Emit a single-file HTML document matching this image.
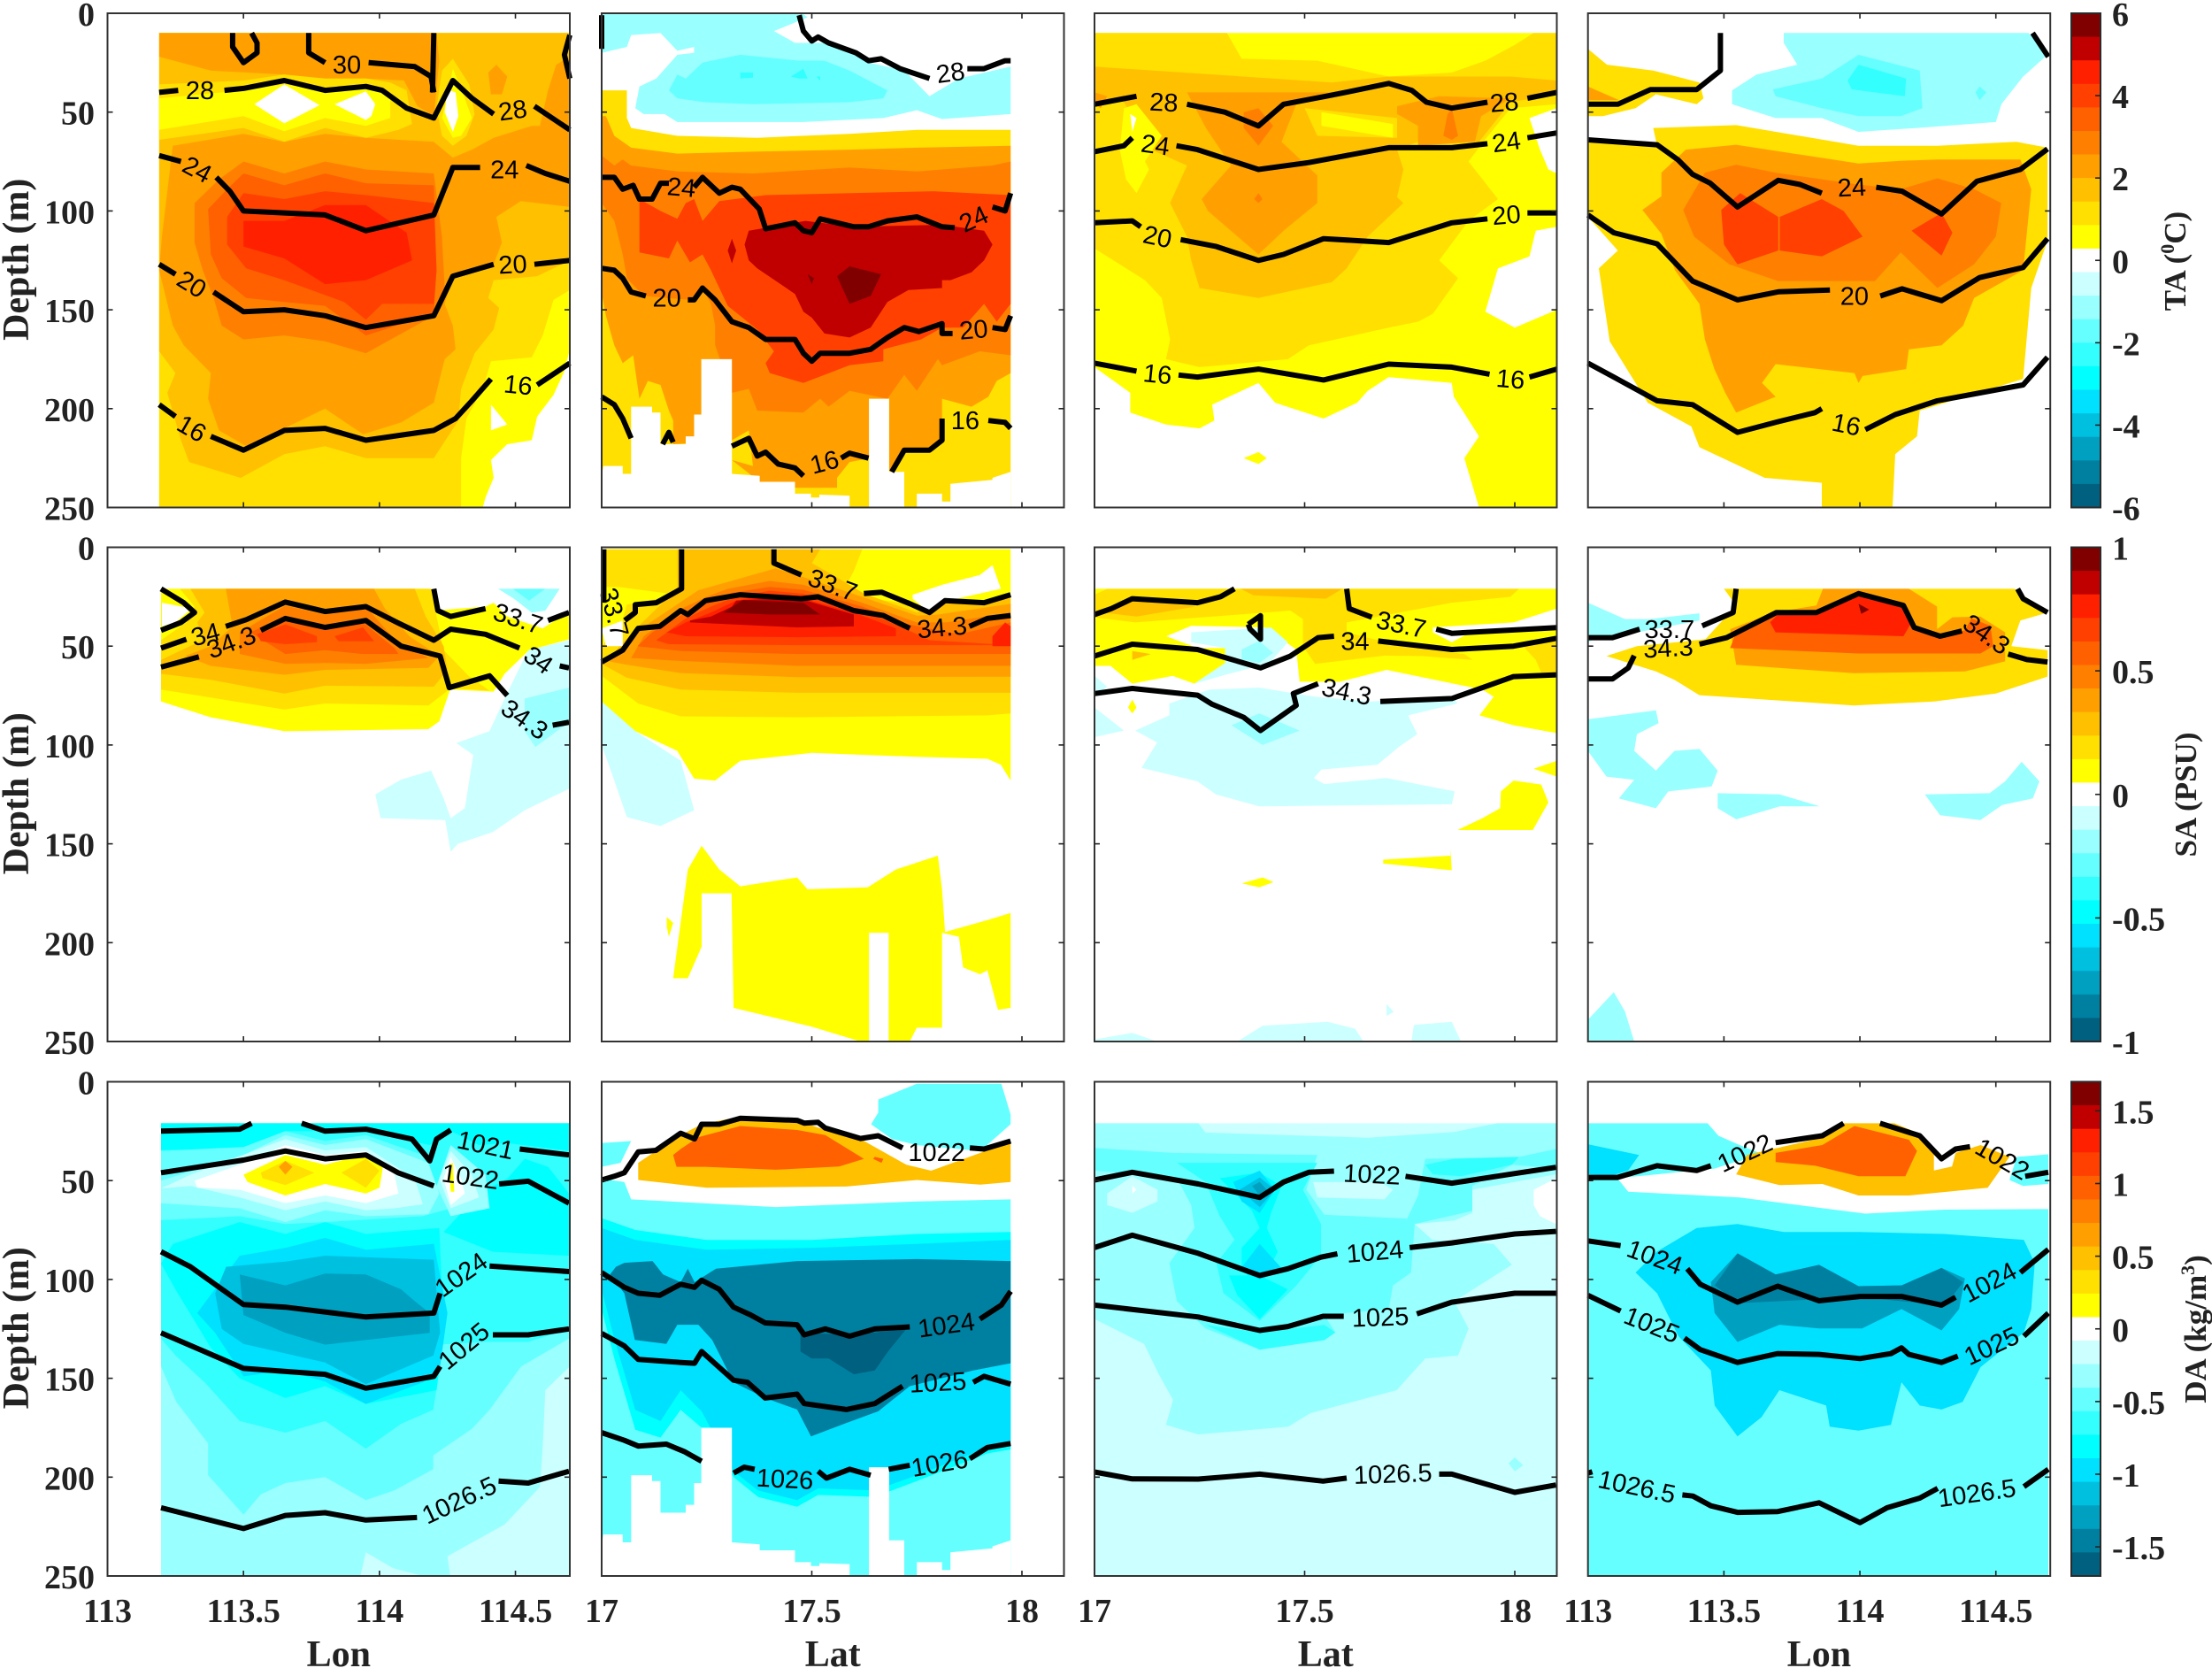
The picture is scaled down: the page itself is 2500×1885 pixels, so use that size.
<!DOCTYPE html>
<html lang="en">
<head>
<meta charset="utf-8">
<title>Temperature, salinity and density anomaly sections</title>
<style>
html,body{margin:0;padding:0;background:#fff;}
svg{display:block;}
.tick{font-family:"Liberation Serif",serif;font-weight:bold;font-size:38px;fill:#222;}
.axis-title{font-family:"Liberation Serif",serif;font-weight:bold;font-size:42px;fill:#222;}
.cbar-title{font-family:"Liberation Serif",serif;font-weight:bold;font-size:35px;fill:#222;}
.clabel{font-family:"Liberation Sans",sans-serif;font-size:29px;fill:#000;}
</style>
</head>
<body>
<svg id="chart" xmlns="http://www.w3.org/2000/svg" width="2500" height="1885" viewBox="0 0 2500 1885">
<rect x="0" y="0" width="2500" height="1885" fill="#fff"/>
</svg>
<script>
// ---- colour scale categories: index = level + 10 ----
const bandLevels = [-10,-9,-8,-7,-6,-5,-4,-3,-2,-1,0,1,2,3,4,5,6,7,8,9,10];
const cmapColors = ['#006080','#0080a0','#00a0c0','#00c0e0','#00e0ff','#00ffff','#33ffff','#66ffff','#99ffff','#ccffff','#ffffff','#ffff00','#ffe000','#ffc000','#ffa000','#ff8000','#ff6000','#ff4000','#ff2000','#c00000','#800000'];
const cbarLimits = [6,1,1.7];
const cbarTicksTA = [-6,-4,-2,0,2,4,6];
const cbarTicksSA = [-1,-0.5,0,0.5,1];
const cbarTicksDA = [-1.5,-1,-0.5,0,0.5,1,1.5];
const depthTicks = [0,50,100,150,200,250];
const lonTicks = [113,113.5,114,114.5];
const latTicks = [17,17.5,18];
const colDomains = [[113,114.7],[17,18.1],[17,18.1],[113,114.7]];
const colTitles = ['Lon','Lat','Lat','Lon'];

// ---- station-gap mask for the latitude section (lat, depth pairs) ----
const latGapMask = [17,234,17.004,229,17.05,229,17.05,233,17.07,233,17.07,199,17.12,199,17.12,202,17.14,202,17.14,218,17.2,218,17.2,214,17.22,214,17.22,203,17.237,203,17.237,175,17.31,175,17.31,233,17.376,234,17.376,237,17.46,237,17.46,243,17.498,243,17.498,245,17.518,245,17.518,243.5,17.59,244,17.59,250,17.636,250,17.636,195,17.684,195,17.684,232,17.72,232,17.72,250,17.75,250,17.75,243,17.81,243,17.81,247,17.83,247,17.83,238,17.93,236,17.93,235,17.973,232,17.973,250,17,250];

// ---- Temperature anomaly: [level, x/depth pairs] ----
const taLonA = [
[1,[113.19,10,114.7,10,114.7,170,114.68,181,114.64,193,114.58,204,114.56,216,114.47,218,114.41,226,114.42,235,114.39,245,114.38,250,113.19,250]],
[2,[113.19,10,114.7,10,114.7,140,114.64,145,114.6,163,114.56,174,114.41,176,114.38,190,114.32,205,114.3,225,114.3,250,113.19,250]],
[3,[113.19,10,114.7,10,114.7,125,114.58,133,114.42,135,114.4,144,114.44,149,114.42,160,114.35,172,114.3,190,114.29,206,114.2,225,113.95,225,113.8,219,113.65,223,113.49,235,113.3,227,113.27,216,113.22,192,113.25,182,113.19,171]],
[4,[113.24,67,113.5,61,113.65,65,113.8,61,113.95,63,114.2,65,114.27,73,114.34,69,114.42,63,114.56,57,114.59,57,114.62,39,114.65,26,114.7,22,114.7,98,114.52,95,114.43,103,114.45,116,114.42,127,114.27,134,114.24,147,114.27,158,114.28,170,114.24,175,114.2,197,114.08,207,113.94,213,113.8,200,113.65,210,113.51,219,113.41,211,113.37,195,113.38,182,113.28,168,113.24,158,113.19,130,113.2,113]],
[4,[113.19,10,114.21,10,114.22,24,114.2,52,114.14,47,114.09,34,113.95,33,113.8,33,113.65,31,113.38,29,113.19,22]],
[4,[114.4,30,114.43,26,114.47,32,114.45,41,114.41,41]],
[5,[113.5,75,113.65,81,113.8,75,113.95,79,114.2,81,114.23,113,114.24,139,114.2,153,113.95,172,113.8,166,113.65,163,113.5,165,113.42,158,113.39,144,113.35,130,113.32,116,113.32,96,113.41,84]],
[6,[113.5,81,113.65,87,113.8,81,113.95,86,114.2,87,114.21,130,114.2,152,113.95,163,113.8,148,113.65,146,113.51,144,113.42,134,113.38,122,113.37,99,113.44,89]],
[7,[113.5,91,113.65,94,113.8,90,113.95,92,114.2,96,114.21,130,114.2,147,114.01,147,113.95,155,113.87,146,113.65,135,113.51,129,113.44,117,113.44,103]],
[8,[113.5,105,113.65,105,113.8,97,113.95,97,114.1,111,114.12,125,113.95,135,113.8,137,113.65,124,113.5,118]],
[2,[113.19,36,113.5,34,113.65,31,113.8,33,113.95,33,114.04,35,114.1,39,114.12,56,114.07,59,113.95,63,113.8,58,113.65,65,113.5,58,113.19,64]],
[1,[113.19,43,113.5,39,113.65,36,113.8,39,113.95,36,114.04,43,114.04,53,113.95,57,113.8,53,113.65,59.7,113.5,52,113.19,59]],
[0,[113.54,46,113.65,36,113.78,46.5,113.65,55.7]],
[0,[113.835,46,113.95,39.5,113.985,46,113.97,52,113.95,54]],
[3,[114.27,18,114.34,29,114.38,45,114.35,65,114.27,73,114.2,65,114.21,45,114.23,26]],
[2,[114.27,23,114.33,36,114.35,51,114.32,62,114.27,67,114.23,62,114.21,48,114.23,29]],
[1,[114.27,28,114.3,38,114.34,53,114.3,62,114.27,63,114.23,53,114.25,41]],
[0,[114.25,38.6,114.28,40,114.29,52,114.27,60,114.24,50]],
[0,[114.41,198,114.47,208,114.41,211]]
];
const taLatA = [
[-2,[17,0.5,17,20,17.06,17,17.07,11,17.14,10,17.18,19,17.22,17,17.22,20,17.18,21,17.13,33,17.09,37,17.08,48,17.1,51,17.15,51,17.18,55,17.48,55,17.67,53,17.75,49,17.81,53.5,17.973,51,17.973,27,17.85,33,17.78,42,17.72,29,17.635,25,17.55,15,17.46,15,17.41,9,17.49,2,17.48,0.5]],
[-3,[17.16,39,17.18,31,17.2,33,17.24,25,17.33,21,17.47,24,17.53,24,17.59,29,17.68,39,17.67,43,17.59,45,17.36,46,17.245,45,17.18,43]],
[-4,[17.33,30,17.36,30,17.36,32.5,17.33,33]],
[-4,[17.45,32,17.48,28,17.49,33,17.47,33]],
[-4,[17.51,32,17.52,32,17.52,34]],
[2,[17,39,17.06,39,17.06,53,17.07,58,17.18,62,17.37,63,17.59,61,17.75,59,17.973,59,17.973,250,17,250]],
[4,[17.01,52,17.03,62,17.07,68,17.18,71,17.36,70,17.59,69,17.75,68,17.973,67,17.973,182,17.94,186,17.92,194,17.88,199,17.81,195,17.81,216,17.78,221,17.72,221,17.69,232,17.64,225,17.59,227,17.56,235,17.56,240,17.46,240,17.376,237,17.31,226,17.36,229,17.35,211,17.31,216,17.17,218,17.17,206,17.16,201,17.14,188,17.11,186,17.09,195,17.075,173,17.05,177,17.03,168,17.01,153,17.004,146,17,141,17,52]],
[5,[17,72,17.03,77,17.05,74,17.07,77,17.18,80,17.36,81,17.59,78,17.75,80,17.93,77,17.973,75,17.973,173,17.9,171,17.81,178,17.8,175,17.75,191,17.72,183,17.68,195,17.59,191,17.54,199,17.52,195,17.48,202,17.37,201,17.35,190,17.31,192,17.27,168,17.27,158,17.26,147,17.24,139,17.21,145,17.1,143,17.06,134,17.05,122,17.03,105,17,96]],
[7,[17.09,94,17.14,100,17.18,104,17.2,96,17.22,94,17.24,105,17.28,95,17.39,92,17.59,91,17.79,90,17.973,92,17.973,147,17.94,156,17.91,147,17.86,159,17.81,159,17.76,165,17.67,170,17.67,176,17.59,178,17.48,187,17.4,182,17.39,177,17.41,171,17.37,160,17.3,148,17.26,130,17.24,122,17.21,126,17.18,115,17.16,124,17.09,121,17.09,111]],
[9,[17.34,117,17.35,110,17.485,105,17.6,108,17.81,107,17.91,110,17.93,117,17.91,125,17.88,131,17.83,135,17.81,135,17.81,139,17.73,140,17.68,146,17.64,159,17.59,164,17.53,162,17.5,154,17.48,151,17.46,142,17.37,129,17.35,125]],
[10,[17.56,133,17.59,128,17.665,132,17.64,143,17.59,147]],
[10,[17.49,132,17.505,134,17.5,137]],
[9,[17.31,114,17.32,120,17.31,126.5,17.3,120]]
];
const taLatB = [
[1,[17,10,18.1,10,18.1,250,17.915,250,17.88,225,17.915,214,17.855,194,17.85,187,17.7,184,17.65,191,17.625,197,17.545,205,17.43,197,17.39,187,17.28,198,17.285,206,17.25,210,17.17,208,17.085,202,17.085,192,17,179]],
[0,[18.1,48,18.035,53,18.06,69,18.08,79,18.1,81]],
[0,[18.1,108,18.05,110,18.035,123,17.96,129,17.93,151,18,159,18.1,150]],
[1,[17.355,225,17.39,222,17.41,225,17.39,228]],
[2,[17,10,17.315,10,17.35,23,17.53,24,17.7,32,17.85,30,17.93,24,18,16,18.045,10,18.1,10,18.1,46,17.99,48,17.925,65,17.89,75,17.96,94,17.89,105,17.82,125,17.865,134,17.805,152,17.77,156,17.7,159,17.51,168,17.46,175,17.25,179,17.17,175,17.18,165,17.16,144,17.12,135,17,119]],
[3,[17,27,17.565,35,17.7,32,17.99,32,18.1,34,18.1,41,17.99,45,17.915,65,17.77,65,17.72,69,17.735,79,17.72,93,17.735,96,17.65,113,17.6,129,17.565,136,17.39,144,17.25,139,17.23,125,17.22,113,17.18,96,17.22,77,17.135,69,17.07,45,17,43]],
[4,[17,40,17.03,42,17.015,48,17,46]],
[4,[17.22,40,17.565,40,17.48,46,17.445,65,17.53,82,17.53,96,17.45,110,17.39,122,17.27,100,17.255,94,17.325,77,17.265,58]],
[4,[17.72,47,17.82,42,17.99,43,17.92,52,17.905,65,17.77,67,17.77,57,17.72,51]],
[5,[17.355,50,17.39,48,17.425,57,17.39,67,17.355,58]],
[5,[17.39,91,17.4,94,17.39,96,17.38,94]],
[5,[17.85,48,17.865,62,17.85,64,17.83,62,17.84,51]],
[2,[17.5,48,17.72,53,17.72,63,17.53,62]],
[1,[17.54,50,17.71,56,17.71,63,17.54,57]],
[1,[17.07,48,17.1,46,17.16,62,17.12,75,17.13,79,17.1,91,17.075,84,17.06,69]],
[0,[17.085,51,17.1,53,17.09,60]]
];
const taLonB = [
[-2,[113.72,10,114.62,10,114.69,21,114.6,32,114.52,46,114.5,55,114.21,58,113.995,60,113.86,53,113.69,53,113.53,46,113.53,39,113.62,31,113.77,26,113.72,15]],
[-3,[113.68,38.5,113.86,33,113.995,21,114.22,29,114.23,48,114.15,52,113.995,52,113.86,48,113.69,42]],
[-4,[113.995,26,114.17,33,114.165,42,113.97,38.5,113.955,34]],
[-3,[114.44,37,114.465,40,114.44,44,114.425,40]],
[2,[113,18,113.07,26,113.24,29,113.41,35,113.425,43,113.4,46,113.25,41,113.175,48,113.055,52,113,52]],
[4,[113,37,113.115,44,113,44]],
[2,[113,63,113.254,67,113.24,58,113.545,56.6,113.995,67,114.285,67,114.575,65,114.69,68,114.69,115,114.63,139,114.6,185,114.22,201,114.21,214,114.13,223,114.12,250,113.86,250,113.86,237.5,113.65,235,113.41,219.5,113.38,209,113.22,197,113.08,166,113.04,129,113.11,120,113,103]],
[4,[113.27,80.6,113.36,69,113.545,66.5,113.995,76,114.15,74.6,114.285,74,114.59,74,114.63,89,114.6,130,114.42,144,114.38,158,114.3,168,114.18,170,114.17,180,114.01,183.5,113.995,187,113.98,182,113.69,177.5,113.64,187,113.69,194,113.545,202,113.505,192,113.465,180,113.43,165,113.41,147,113.32,130,113.27,111.5,113.2,99.5,113.27,92.6]],
[5,[113.35,99.5,113.43,80.6,113.545,76.6,113.69,80.6,113.995,86.6,114.15,89,114.285,83.5,114.42,89,114.52,96,114.5,113,114.42,127,114.285,139,114.15,121,114.055,135.5,113.7,135.5,113.52,127,113.39,113]],
[7,[113.49,99.5,113.56,91,113.7,103,113.7,120,113.55,127,113.5,117]],
[7,[113.705,103,113.86,94,113.94,100,114.01,113,113.86,123,113.705,120]],
[7,[114.3,101,114.34,111,114.3,122.6,114.19,110]]
];

// ---- Salinity anomaly ----
const saLonA = [
[1,[113.197,21,114.18,21,114.2,32,114.39,30,114.42,28,114.47,35,114.6,41,114.7,32,114.7,46.5,114.55,52,114.46,64,114.42,73,114.26,72,114.22,88,114.18,92,113.65,93,113.38,86,113.197,78]],
[0,[113.2,28,113.31,31,113.25,38,113.2,40]],
[-1,[114.7,47,114.7,122,114.534,133,114.417,144,114.288,150,114.262,154,114.242,138,114.004,137,113.985,125,114.08,117.5,114.19,113,114.236,127,114.262,137,114.314,132,114.345,105,114.283,99,114.405,93,114.469,74,114.547,52]],
[-2,[114.697,71,114.534,76.5,114.534,93,114.573,101,114.697,88.5]],
[-2,[114.436,21,114.663,21,114.61,32,114.56,33,114.495,26]],
[-3,[114.49,21,114.61,21,114.55,27]],
[2,[113.266,21,114.19,21,114.21,35,114.236,52,114.327,65,114.405,72.5,114.262,71.3,114.18,80,113.8,79,113.65,82,113.38,76,113.197,72,113.197,47,113.29,38,113.32,30]],
[3,[113.305,21,114.13,21,114.17,35,114.236,50,114.25,62,114.2,70.5,113.8,70,113.65,74,113.38,67,113.197,64,113.197,57,113.357,46.5,113.33,38,113.357,33]],
[4,[113.435,21,113.98,21,114.02,31,114.11,45,114.22,55,114.18,61,113.8,62,113.65,64.5,113.38,60,113.285,55,113.38,50,113.46,40]],
[5,[113.486,43,113.654,29.5,113.8,34,113.95,30,114.055,46.5,114.18,56,113.95,59,113.8,58.5,113.654,59,113.486,54]],
[6,[113.525,43,113.654,35,113.8,41,113.94,38,114.055,51,114.07,54,113.94,54,113.8,52,113.654,54]],
[7,[113.55,44,113.654,39,113.77,45,113.77,48,113.654,49,113.564,47.5]],
[7,[113.835,45,113.94,40.5,113.98,47.5,113.85,47.5]]
];
const saLatA = [
[1,[17,1,17.973,1,17.973,118,17.95,110,17.918,107,17.75,106,17.5,104,17.33,108,17.27,118,17.22,117,17.18,103,17.08,93,17,79]],
[1,[17.17,218,17.205,163,17.238,151,17.28,163,17.33,171.5,17.465,167,17.49,173,17.633,172,17.7,163,17.8,156,17.81,173,17.817,194.6,17.918,188.6,17.973,185,17.973,233,17.943,234,17.918,214,17.9,216,17.86,212.5,17.85,197,17.81,195,17.81,243,17.75,243,17.733,250,17.616,250,17.5,242.5,17.314,233,17.309,175,17.238,175,17.238,202,17.205,218]],
[1,[17.155,187,17.17,190,17.16,197,17.155,192]],
[0,[17.636,195,17.683,195,17.683,250,17.636,250]],
[-1,[17,78,17.08,93,17.188,108,17.22,133,17.14,141,17.06,136.5,17.03,118,17,100]],
[2,[17,1,17.62,1,17.6,12,17.57,24,17.73,28.5,17.8,28,17.91,27,17.973,24,17.973,84,17.918,85,17.465,86,17.188,85.5,17.087,79,17,65,17,50,17.045,40,17.06,29,17.18,24,17.04,20,17,20]],
[3,[17.18,1,17.52,1,17.5,8,17.55,14,17.624,23.4,17.75,33,17.817,28,17.973,26,17.973,73.6,17.465,73.6,17.188,72,17.06,66,17,59,17.03,53,17.08,41.4,17.18,21]],
[4,[17,57,17.045,51.7,17.08,43,17.188,27.7,17.23,21.7,17.3,17.5,17.414,10.6,17.465,14,17.633,26,17.75,34.6,17.8,34,17.973,28.6,17.973,65.5,17.465,65.7,17.188,63.6,17.06,59.4]],
[5,[17.07,56,17.1,45,17.19,31,17.25,25,17.3,21,17.4,17,17.48,19,17.62,28,17.75,38,17.82,38,17.973,33,17.973,60,17.465,60,17.19,57.5]],
[6,[17.085,50,17.12,43,17.2,33,17.26,27,17.31,23,17.4,20,17.48,21.5,17.62,30,17.73,39,17.85,44,17.973,38,17.973,54,17.465,54,17.19,52.5]],
[7,[17.13,47,17.2,36,17.26,30,17.32,25,17.4,22,17.48,23.5,17.62,32,17.72,41,17.78,47,17.973,49.5,17.465,49.5,17.16,49]],
[8,[17.155,43,17.2,38,17.26,33,17.32,27,17.4,24,17.48,26,17.6,33,17.7,41,17.7,45,17.465,45.5,17.2,45]],
[8,[17.93,45,17.96,38,17.973,40,17.973,50,17.93,50]],
[9,[17.21,37,17.26,35,17.31,30,17.32,27,17.4,26,17.48,26.5,17.6,34,17.6,40,17.465,40.5,17.21,38]],
[10,[17.29,33,17.335,26.7,17.48,28,17.52,34,17.4,34]],
[0,[17,41,17.05,37,17.05,50,17.01,50]],
[0,[17.74,24,17.81,19,17.9,14,17.93,9,17.95,21,17.825,27,17.78,33,17.74,26]]
];
const saLatB = [
[1,[17,21,18.1,21,18.1,94,17.997,90,17.916,85,17.95,75.6,17.923,72,17.695,62,17.584,68,17.488,68,17.48,51.7,17.407,40.5,17.23,39.7,17.171,45,17.245,51,17.311,51,17.311,58.5,17.2375,69,17.186,65,17.09,69,17.038,60,17,60]],
[0,[17.805,40.5,17.997,38,18.1,31,18.1,39.5,17.895,43,17.85,48,17.805,43]],
[-1,[17.23,43,17.42,40.5,17.46,48,17.42,57.7,17.392,60,17.311,64.5,17.2375,69,17.311,58.5,17.311,51,17.23,48]],
[-1,[17.178,79,17.274,72,17.392,71,17.525,75.6,17.658,78,17.85,75.6,17.864,79,17.746,85,17.768,94.5,17.724,101,17.673,110,17.54,112.4,17.522,116.7,17.547,119.8,17.695,116.7,17.857,123.5,17.85,130,17.392,131,17.289,125,17.245,118.4,17.112,111.6,17.149,98.7,17.097,92.7,17.178,85]],
[-1,[17,81,17.07,92.7,17,96]],
[-1,[17,65,17.03,70.5,17,75.6]],
[-2,[17.326,90,17.392,84,17.488,92.7,17.4,100]],
[-2,[17.35,51.7,17.392,47.4,17.425,53.4,17.392,58.5,17.35,56.8]],
[2,[17.03,21,18.01,21,17.99,25,17.85,28,17.6,38,17.6,43,17.73,50,17.88,54,17.9,57,17.78,55,17.69,54.8,17.525,59,17.496,50,17.496,36.3,17.466,32,17.097,38,17,35.4,17,24]],
[2,[18.02,50,18.1,46.5,18.1,63.4,18.063,63.4,18.05,57]],
[3,[17.348,21,17.59,21,17.55,26,17.378,24.3]],
[3,[17.02,33,17.09,26,17.24,30,17.1,35]],
[3,[17.09,52.5,17.134,54,17.09,57]],
[1,[17.09,77,17.1,81,17.09,84,17.08,81]],
[1,[18.045,112,18.1,108,18.1,116]],
[1,[17.997,118,18.063,120,18.08,129,18.043,143,17.864,143,17.923,137,17.965,132,17.967,123.5]],
[1,[17.687,158,17.847,156,17.847,152.6,17.85,163.4,17.687,160]],
[1,[17.351,170,17.4,167,17.426,169.4,17.392,172]],
[-1,[17,250,17,249,17.09,245.6,17.149,250]],
[-1,[17.34,250,17.4,242,17.555,240,17.62,243.5,17.64,250]],
[-1,[17.754,250,17.76,241.6,17.85,240,17.872,250]],
[-1,[17.695,235,17.695,231,17.712,235,17.695,237]]
];
const saLonB = [
[2,[113.5,21,114.568,21,114.69,33,114.59,37,114.557,50,114.69,52,114.69,65.4,114.5,74,114.273,78,113.977,80,113.41,74.8,113.318,67,113.25,62.8,113.068,55,113.18,50,113.432,46.5,113.545,29.4]],
[4,[113.864,21,114.18,21,114.284,30,114.284,41.4,114.34,35.4,114.443,35,114.534,43,114.534,57.7,114.386,62.8,113.977,63.7,113.545,59.4,113.523,41.4,113.682,33,113.84,29.4]],
[6,[113.545,43,113.705,33,113.864,33,114,23,114.16,29,114.205,41.4,114.295,46,114.386,42,114.41,36,114.48,39.7,114.49,50,114.443,53.7,113.995,53.7,113.523,51]],
[8,[113.67,38,113.705,33,113.84,33,113.995,23.5,114.17,30,114.19,38,114.16,45,113.69,43]],
[10,[113.995,28.6,114.034,31.5,114.005,33.7]],
[-2,[113,28,113.136,36.3,113.227,36.3,113.41,33.4,113.41,37,113.18,43,113.045,45,113,48]],
[-2,[113,87,113.25,82.5,113.26,89,113.18,94.5,113.17,103,113.25,113,113.318,103,113.41,102,113.477,113,113.455,121,113.295,123.5,113.25,132,113.114,127,113.17,117.6,113.068,116,113,103]],
[-2,[113.477,124.4,113.705,125,113.852,131,113.705,131,113.545,137.6,113.477,132]],
[-2,[114.239,125,114.477,124.4,114.534,118.4,114.595,108.5,114.66,118.4,114.636,127,114.523,130.4,114.443,138,114.295,135.5]],
[-2,[113,250,113,239,113.095,225,113.136,234.8,113.17,250]]
];

// ---- Density anomaly ----
const daLonA = [
[-2,[113.197,21,114.7,21,114.7,250,113.197,250]],
[-1,[114.7,144,114.61,156,114.6,185,114.59,205,114.46,224,114.25,240,114.26,250,114.7,250]],
[-1,[113.93,250,113.95,238,114.05,246,114.16,250]],
[-3,[113.197,21,114.7,21,114.7,129.7,114.676,131.6,114.521,144,114.405,166,114.34,175.5,114.198,189,114.198,196,114.055,206.7,113.95,211.6,113.8,200,113.654,203,113.564,208.7,113.5,219,113.37,199,113.37,183,113.253,162,113.197,144]],
[-4,[113.197,21,114.697,21,114.697,125,114.547,131.6,114.39,131.6,114.21,133,114.223,144,114.198,166,114.08,173,113.95,185.6,113.8,171.6,113.654,177.5,113.486,171.6,113.357,152,113.25,138.4,113.197,130]],
[-5,[113.24,82,113.486,71,113.654,77,113.8,71,113.95,77,114.22,74,114.236,127,114.21,156,113.95,163,113.8,154,113.654,160,113.486,150,113.38,134.6,113.25,105,113.197,92]],
[-5,[114.366,56.5,114.47,49,114.534,39,114.62,43,114.697,56.5,114.697,88,114.417,86,114.236,76]],
[-5,[113.197,21,114.697,21,114.697,35,114.47,31,114.366,32,114.262,25,114.185,32,113.95,25,113.654,25,113.51,34,113.197,34.5]],
[-3,[113.197,35,113.5,33,113.654,25,113.8,30,113.95,27,114.16,37,114.21,52.7,114.262,64,114.16,68,113.8,71,113.654,72,113.486,68,113.197,70]],
[-2,[113.197,50,113.5,37,113.654,27,113.8,32,113.95,29,114.18,41,114.22,56.5,114.18,67,113.95,68,113.8,65,113.654,71,113.486,64,113.197,61.4]],
[-1,[113.197,54,113.305,47,113.654,29,113.8,34.7,113.95,33,114.13,49,114.16,62,114.055,64,113.95,65,113.8,60.5,113.654,65,113.486,58.5,113.305,52.7]],
[0,[113.32,50,113.486,42,113.654,32,113.8,37,113.95,35,114.055,47,114.07,56.5,113.95,61.4,113.8,57.5,113.654,61.4,113.486,54.6,113.33,53.6]],
[1,[113.5,47,113.654,37,113.8,42,113.936,37,114.013,43,114,53.6,113.95,56.5,113.8,51.7,113.654,57.5,113.515,50.7]],
[2,[113.564,46,113.654,40,113.76,46,113.654,52.3,113.57,48.8]],
[2,[113.86,46,113.95,39,114,45,113.95,53.6]],
[4,[113.63,43,113.654,40,113.68,43,113.654,47]],
[-2,[114.21,52.7,114.262,32,114.39,47,114.405,64,114.262,68]],
[-1,[114.22,49,114.262,35,114.34,47,114.366,58.5,114.262,64]],
[0,[114.236,49,114.262,38,114.3,49,114.314,56.5,114.262,62.4]],
[1,[114.257,42,114.27,41,114.275,55.6,114.262,55.6]],
[-6,[113.33,117,113.486,88,113.654,84,113.8,79,113.95,85,114.2,82,114.25,117,114.223,144,114.16,152,113.95,163,113.8,151.6,113.654,146,113.5,149,113.396,127]],
[-7,[113.396,107,113.436,93.6,113.654,91,113.8,88,114.2,90,114.223,127,114.198,138.5,114,150,113.95,153,113.8,142,113.5,132.6,113.42,125]],
[-8,[113.486,97.5,113.654,103,113.8,97,113.95,97.5,114.08,105,114.13,111,114.185,117,114.185,127,113.8,133,113.654,127,113.5,118]]
];
const daLatA = [
[-3,[17.658,9,17.75,1,17.951,1,17.973,16.6,17.973,21.5,17.901,35,17.75,32,17.691,29,17.641,21.5,17.658,15.6]],
[-3,[17,31,17.07,30,17.045,41,17,43]],
[-3,[17,49,17.054,50.7,17.07,59.5,17.414,63.4,17.75,60.5,17.973,59.5,17.973,250,17,250]],
[-5,[17,69,17.08,75,17.25,80,17.5,80,17.75,77,17.973,76,17.973,186,17.918,188,17.75,202,17.65,210,17.515,209,17.465,215,17.372,210,17.314,200,17.238,175,17.188,166,17.14,180,17.08,176,17.03,140,17,115]],
[-6,[17,74,17.08,80,17.25,85,17.5,84,17.75,82,17.973,80,17.973,182,17.918,185,17.75,199,17.65,206.7,17.515,205.7,17.465,211.6,17.372,206.7,17.314,197,17.238,166.7,17.188,156,17.14,171.6,17.08,166,17.03,130,17,105]],
[-9,[17.272,94.6,17.465,90.7,17.75,89.7,17.973,90.7,17.973,142.4,17.884,146,17.733,154,17.658,166.7,17.582,172.6,17.498,179.4,17.465,165.8,17.389,160,17.314,152,17.263,130.6,17.23,122.9,17.18,122.9,17.154,132.6,17.079,130.6,17.054,107,17.02,97.5,17.034,93.6,17.054,91.6,17.121,90.7,17.146,97.5,17.188,101.4,17.205,94.6,17.221,101.4]],
[-10,[17.473,127,17.6,128,17.725,125,17.683,136,17.65,146,17.6,148,17.54,140,17.5,140,17.473,136.5]],
[3,[17.087,41,17.129,35,17.188,27,17.238,21.5,17.33,17.6,17.465,19.5,17.532,24.4,17.616,29,17.725,42,17.784,45,17.901,36,17.973,30,17.973,50.7,17.901,52,17.75,49.7,17.582,53,17.25,53.6,17.087,49.7]],
[6,[17.17,37,17.188,34,17.23,28,17.33,22.4,17.465,24.4,17.532,27,17.624,39,17.565,42.9,17.414,44.5,17.247,43,17.178,43]],
[6,[17.65,38,17.67,39,17.666,41,17.646,39]]
];
const daLatB = [
[-1,[17,21,18.1,21,18.1,250,17,250]],
[-2,[17,21,17.247,21,17.264,25.7,17.65,28.3,17.856,25.4,17.959,21,18.098,21,18.098,46.8,17.899,54.6,17.899,66.3,17.856,70.2,17.762,72,17.804,80,17.95,82,17.993,92.6,17.856,111,17.89,124.8,17.865,138.5,17.787,140,17.719,156,17.513,167.7,17.461,174.5,17.247,178.4,17.17,173.6,17.187,160.9,17.153,148,17.118,132.6,17,120]],
[-1,[17.03,56.5,17.09,47.8,17.15,54.6,17.15,60.5,17.09,66.3,17.03,62.4]],
[0,[17.09,52.6,17.1,54.6,17.09,56.5]],
[-1,[17.52,50.7,17.68,50.7,17.71,54.6,17.69,59.5,17.53,58.5]],
[-1,[17.96,62.4,18.036,49.7,18.098,47.8,18.098,72,18.036,72,17.993,67.3]],
[0,[18.045,54.6,18.098,48.8,18.098,72,18.06,68,18.045,62.4]],
[-3,[17,33.5,17.187,36,17.53,37,17.504,54.6,17.547,67.3,17.744,69.2,17.77,57.5,17.787,39,18.01,38,18.098,34,18.098,43.9,17.993,42,17.899,52.7,17.899,65.3,17.762,72,17.753,96.5,17.71,103,17.7,115,17.547,118,17.573,126.8,17.547,130.7,17.393,135.5,17.264,124.8,17.196,111,17.178,91.7,17.238,74,17.23,62.4,17.196,48.8,17,44.9]],
[-4,[17.196,41,17.53,41,17.496,54.6,17.539,72,17.539,87.8,17.479,103.4,17.393,121,17.307,107,17.29,91.7,17.333,80,17.298,68,17.264,50.7]],
[-4,[17.264,123,17.393,126.8,17.547,123,17.573,126.8,17.547,130.7,17.393,135.5]],
[-4,[17.787,42,17.856,39,18.01,38,17.993,42,17.873,47.8,17.805,46.8]],
[-5,[17.298,48.8,17.393,46,17.445,52.7,17.42,66.3,17.41,74,17.436,86,17.41,96.5,17.393,107,17.35,93.6,17.35,84,17.393,74,17.375,65.3]],
[-5,[17.32,98,17.393,98,17.46,105,17.393,120,17.34,108]],
[-6,[17.33,50.7,17.393,45,17.43,54.6,17.393,66.3,17.35,60.5]],
[-6,[17.345,95.5,17.393,82,17.45,95.5,17.393,100]],
[-7,[17.345,54.6,17.393,48.4,17.43,54.6,17.393,63.4]],
[-8,[17.375,52.7,17.393,50.7,17.41,54.6,17.393,57.5]],
[-2,[17.985,193,18,190,18.02,194,18,197]]
];
const daLonB = [
[-3,[113,48.8,113.108,48.8,113.148,55.6,113.558,58.5,113.889,64.4,114.02,66.7,114.31,64.7,114.693,64.4,114.693,250,113,250]],
[-3,[113,21,113.44,21,113.48,27.3,113.558,32,113.65,37,113.53,41,113.466,43.9,113.254,46.8,113.108,48.8,113,48.8]],
[-3,[114.55,49.7,114.577,38,114.693,36.7,114.693,51.7,114.6,52.7]],
[-6,[113,31.6,113.188,37,113.148,44.9,113.082,47.8,113,46.8]],
[-6,[113.254,85.8,113.4,74,113.55,72,113.72,76,113.995,76,114.31,77,114.603,80,114.643,91.7,114.63,115,114.603,126.8,114.444,144.3,114.378,161.9,114.3,165.8,114.22,163.8,114.153,152,114.114,173.6,113.995,176.5,113.889,174.5,113.876,163.8,113.704,156,113.638,169.7,113.55,179.4,113.466,163.8,113.452,146,113.333,128.7,113.254,107,113.175,96.5]],
[-8,[113.452,101.4,113.55,86.8,113.69,97.5,113.85,92.6,113.995,103.4,114.153,103,114.3,94.2,114.386,99.5,114.365,115,114.3,125.8,114.153,115,114.008,124.8,113.85,124.8,113.704,122.9,113.55,131.6,113.466,117]],
[-9,[113.466,103,113.55,86.8,113.69,97.5,113.85,92.6,113.995,103.4,114.153,103,114.3,94.2,114.38,101.4,114.314,113,114.153,111,114.008,109,113.85,110,113.55,112]],
[3,[113.545,46.8,113.585,37,113.862,28.3,113.929,21,114.127,21,114.22,26.3,114.272,37,114.272,44.9,114.339,42.9,114.352,36,114.444,32,114.55,38,114.47,53.6,114.18,57.5,113.995,57.5,113.862,51.7,113.704,52.3]],
[6,[113.69,36,113.862,32,113.98,22.4,114.18,29.3,114.21,35,114.167,47.8,113.995,47.8,113.836,42.5,113.69,40.6]]
];

// ---- Contour line segments (x/depth pairs) ----
const taLonALines = [
[113.46,10,113.46,17,113.5,25,113.55,20,113.55,15,113.53,10],
[113.74,10,113.74,20,113.8,25],
[113.96,25,114.13,27,114.19,32,114.2,40],
[114.2,10,114.195,40],
[114.7,11,114.68,21,114.7,33],
[113.19,40,113.26,39],
[113.43,39,113.5,38,113.65,34,113.8,39,113.95,37,114.01,39,114.1,48,114.2,53,114.27,34,114.34,43,114.42,51],
[114.57,47,114.7,59],
[113.19,72,113.27,75],
[113.4,83,113.45,90,113.5,100,113.8,102,113.95,110,114.2,102,114.27,78,114.37,78],
[114.54,77,114.61,81,114.7,85],
[113.19,127,113.25,132],
[113.39,141,113.5,151,113.65,150,113.8,153,113.95,159,114.2,153,114.27,133,114.42,127],
[114.57,127,114.7,125],
[113.19,198,113.25,204],
[113.38,214,113.5,221,113.65,211,113.8,210,113.95,216,114.2,211,114.28,205,114.34,196,114.41,185],
[114.58,188,114.7,177]
];
const taLonALabels = [['30',113.88,26,0],['28',113.34,39,0],['28',114.49,49,-8],['24',113.33,79,28],['24',114.46,79,0],['20',113.31,137,32],['20',114.49,127,-3],['16',113.31,210,30],['16',114.51,188,6]];
const taLatALines = [
[17,1,17,18],
[17.47,1,17.48,9,17.5,14,17.515,12,17.54,15,17.605,20,17.635,24,17.665,23,17.71,28,17.78,33],
[17.87,28,17.91,28,17.96,24,17.973,24],
[17,83,17.03,83,17.05,89,17.075,87,17.09,94,17.12,94,17.14,86,17.16,86],
[17.22,88,17.24,83,17.28,91,17.31,88,17.33,89,17.375,99,17.39,109,17.46,106,17.48,110,17.5,111,17.52,104,17.6,108,17.635,108,17.68,105,17.75,103,17.81,108,17.84,108.5],
[17.93,98,17.96,100,17.973,91],
[17,129,17.03,130,17.05,134,17.07,141,17.105,143],
[17.205,145,17.22,145,17.24,139,17.27,145,17.31,156,17.35,159,17.39,165,17.46,165,17.48,172,17.5,176,17.52,172,17.59,172,17.64,170,17.68,164,17.72,159,17.755,161,17.81,157,17.81,162,17.835,162],
[17.93,159,17.96,160,17.973,153],
[17,194,17.03,198,17.05,205,17.07,215],
[17.145,218,17.16,212,17.17,217],
[17.31,219,17.35,215,17.37,224,17.39,222,17.42,228,17.46,230,17.48,234],
[17.57,225,17.59,222.5,17.635,225],
[17.69,232,17.72,221,17.78,221,17.81,216,17.81,205],
[17.92,206,17.96,207,17.973,210]
];
const taLatALabels = [['28',17.83,30,-8],['24',17.19,88,5],['24',17.885,104,-25],['20',17.155,144,0],['20',17.885,160,-5],['16',17.53,227,-15],['16',17.865,206,0]];
const taLatBLines = [
[17,46,17.1,42],
[17.22,46,17.31,50,17.39,57,17.45,46,17.55,42,17.61,39.5,17.7,35.5,17.755,39,17.79,45,17.85,48,17.935,45],
[18.03,43,18.1,40],
[17,70,17.07,67,17.09,63],
[17.195,67,17.245,69,17.39,79,17.51,75.5,17.7,68,17.85,68,17.935,66],
[18.03,63,18.1,60.5],
[17,106,17.09,105,17.11,108],
[17.205,114.5,17.29,118,17.39,125,17.45,122,17.545,114,17.7,116,17.85,106,17.935,104],
[18.03,101,18.1,101],
[17,177,17.1,181],
[17.2,183,17.245,184,17.39,180,17.545,185.5,17.7,177.5,17.85,179,17.94,182.6],
[18.035,184,18.1,180]
];
const taLatBLabels = [['28',17.165,45,3],['28',17.975,45,-5],['24',17.145,66.5,8],['24',17.98,65,-8],['20',17.15,113,12],['20',17.98,102,-5],['16',17.15,182.5,6],['16',17.99,185,5]];
const taLonBLines = [
[113.487,10,113.487,29,113.4,38.6,113.23,38.6,113.11,46,113,46],
[114.635,10,114.693,22],
[113,64,113.254,66.5,113.33,74,113.385,81.5,113.45,86,113.55,98,113.7,84.5,113.78,86.6,113.86,91],
[114.06,88,114.155,90,114.3,101.5,114.43,85,114.59,79,114.69,68.6],
[113,102,113.095,111,113.254,116.6,113.385,135.5,113.55,145,113.7,140.9,113.89,140],
[114.075,143,114.155,139.4,114.3,145.4,114.44,133.7,114.6,128.6,114.69,114],
[113,177,113.095,184,113.254,196,113.385,198,113.55,212,113.7,206.6,113.835,202,113.86,200],
[114.02,210.6,114.13,203,114.285,196,114.6,188,114.69,174]
];
const taLonBLabels = [['24',113.97,88,-3],['20',113.98,143,0],['16',113.95,208,12]];

const saLonALines = [
[113.197,21,113.28,28,113.32,33,113.27,38,113.197,42],
[114.2,21,114.215,32,114.262,35,114.39,31],
[114.62,37,114.697,33],
[113.197,51,113.29,46.5],
[113.435,40,113.51,36.6,113.654,27.7,113.8,32.5,113.95,30,114.065,38,114.2,47,114.262,41.4,114.39,44,114.515,51],
[114.663,60,114.697,61],
[113.197,60.6,113.336,55.4],
[113.564,42,113.654,36,113.8,40.5,113.95,37,114.08,50,114.223,55,114.257,71,114.405,65,114.47,75],
[114.637,90,114.697,88.5]
];
const saLonALabels = [['33.7',114.51,36,18],['34',113.36,44,-15],['34',114.585,57,35],['34.3',113.455,48,-20],['34.3',114.534,87,35]];
const saLatALines = [
[17.005,1,17.005,28],
[17.055,37,17.08,33,17.08,29,17.13,28,17.19,21,17.19,1],
[17.41,1,17.41,8,17.475,14],
[17.624,23.4,17.666,22.7,17.733,28.5,17.78,33,17.817,27,17.91,28,17.973,24],
[17,58,17.05,52,17.087,41,17.138,40,17.188,32,17.205,34,17.247,27,17.33,24,17.475,26,17.515,25,17.6,32,17.67,34.5,17.733,41],
[17.875,40,17.918,36,17.973,34.5]
];
const saLatALabels = [['33.7',17.03,33,75],['33.7',17.55,19,20],['34.3',17.81,40.5,-5]];
const saLatBLines = [
[17,34,17.04,31,17.09,26,17.245,28,17.3,25,17.333,21],
[17.6,21,17.606,31,17.66,35.4],
[17.813,41.4,17.85,43.5,18.1,40.6],
[17.366,39,17.395,34.6,17.395,46.5,17.37,41.4,17.366,39],
[17,55,17.09,49,17.245,51.7,17.395,61,17.466,55,17.532,45.7,17.57,45],
[17.675,47.4,17.85,51.7,17.997,50,18.1,46],
[17,74,17.09,71.4,17.245,74.8,17.28,79.4,17.355,86,17.395,92.7,17.48,80,17.473,74,17.532,69],
[17.68,78,17.85,76.5,17.997,65.4,18.1,64.5]
];
const saLatBLabels = [['33.7',17.73,39,12],['34',17.62,47.4,0],['34.3',17.6,73,12]];
const saLonBLines = [
[113,45.7,113.09,45.7,113.19,41.4],
[113.42,39.7,113.534,33,113.545,21],
[114.58,21,114.6,26,114.69,33],
[113,66.6,113.09,66.6,113.148,61,113.17,54.8],
[113.41,49,113.51,45.7,113.693,33,113.84,33,113.995,23.4,114.16,29.4,114.2,40.6,114.295,45,114.375,42.3],
[114.545,54,114.614,56.8,114.69,58]
];
const saLonBLabels = [['33.7',113.3,41.4,0],['34.3',113.295,50.8,-3],['34.3',114.466,44,35]];

const daLonALines = [
[113.197,25,113.486,24,113.53,21],
[113.714,21,113.8,25,113.95,24,114.12,29,114.185,40,114.21,29,114.262,24.4],
[114.516,34,114.697,37],
[113.197,46,113.5,39.6,113.654,35,113.8,39,113.95,37,114.068,46,114.2,52.7],
[114.44,51.7,114.547,50.3,114.697,61.4],
[113.197,86,113.305,93.6,113.5,112.7,113.654,114,113.95,119,114.2,117,114.223,107],
[114.405,93.2,114.697,96],
[113.197,127,113.5,145,113.8,148,113.95,155,114.2,149,114.223,144],
[114.417,128,114.547,128,114.697,125],
[113.197,215.5,113.5,226,113.654,219.4,113.8,218,113.95,221.7,114.138,220.4],
[114.438,202,114.547,203,114.697,197]
];
const daLonALabels = [['1021',114.39,32,12],['1022',114.334,48,8],['1024',114.3,97.5,-35],['1025',114.31,133.6,-40],['1026.5',114.293,211.6,-25]];
const daLatALines = [
[17,49.7,17.03,47.8,17.054,46,17.087,35.5,17.129,34.7,17.188,26,17.221,28.9,17.238,21.5,17.28,21.5,17.33,18.5,17.465,19.5,17.482,20.9,17.515,20.5,17.532,23.4,17.616,28.7,17.658,27.3,17.716,33.5],
[17.876,33.5,17.91,34,17.973,30],
[17,96.5,17.054,104,17.087,107,17.138,108,17.188,102.4,17.221,104,17.238,100.4,17.28,105,17.314,114,17.355,118,17.389,122,17.465,122.9,17.482,128,17.532,125,17.59,128.7,17.65,125,17.733,124],
[17.9,120,17.951,113,17.973,106],
[17,127.3,17.054,133.6,17.087,140.4,17.188,142,17.221,142.4,17.238,136.5,17.314,151,17.347,152,17.389,160,17.465,158,17.482,162.8,17.582,165.8,17.65,162.8,17.716,154],
[17.884,152,17.91,149,17.973,153],
[17,177.5,17.054,181.4,17.087,184.3,17.154,183.3,17.196,187,17.238,192],
[17.314,198,17.339,195,17.364,196],
[17.515,197,17.535,200.5,17.59,196,17.64,199],
[17.683,196,17.733,194],
[17.876,190.7,17.918,185,17.973,183]
];
const daLatALabels = [['1022',17.797,35.5,0],['1024',17.82,123,-8],['1025',17.8,152,-3],['1026',17.436,200.9,3],['1026',17.804,193,-10]];
const daLatBLines = [
[17,49.7,17.09,45.8,17.247,51.7,17.393,58.5,17.45,50.7,17.51,45.8,17.57,45.2],
[17.74,47.8,17.85,51.3,18,46.4,18.098,43.3],
[17,83.9,17.09,77.6,17.247,86.8,17.393,98,17.46,94.6,17.539,88.7,17.578,87],
[17.75,83.9,17.85,81.5,18,77,18.098,75.7],
[17,113,17.247,119,17.393,125.8,17.46,123.8,17.544,118.6,17.593,118.6],
[17.767,117.4,17.85,111.5,18,107,18.098,107],
[17,197.4,17.09,200.9,17.247,201,17.393,198.5,17.544,202,17.6,200.5],
[17.82,198.5,17.85,198.5,18,207.7,18.098,204]
];
const daLatBLabels = [['1022',17.66,46.8,3],['1024',17.667,85.8,-5],['1025',17.68,119,-2],['1026.5',17.71,198.3,-2]];
const daLonBLines = [
[113,48.4,113.108,48.4,113.254,42.5,113.4,44.9,113.452,42.5],
[113.69,30.8,113.862,27.3,113.94,21],
[114.074,21,114.22,27.3,114.3,39,114.352,34,114.405,32.8],
[114.608,47.8,114.693,45.8],
[113,80.5,113.12,82.9],
[113.365,94.6,113.413,102.4,113.55,111.5,113.698,103.4,113.85,110.8,114,108.6,114.153,108.6,114.3,113,114.352,109],
[114.59,96.5,114.693,84.8],
[113,108,113.12,116],
[113.355,129.7,113.413,135.5,113.55,142,113.698,137.5,113.85,137.9,114,140,114.114,137.5,114.153,134.6,114.18,137.9,114.3,142,114.36,138.8],
[114.603,128.7,114.693,117],
[113,198,113.016,197.3],
[113.347,209,113.386,209.6,113.452,214.5,113.55,217.8,113.698,217.4,113.85,213,114,223,114.1,215.5,114.22,210.6,114.286,205.7],
[114.603,204.8,114.693,196]
];
const daLonBLabels = [['1022',113.577,36,-25],['1022',114.524,39,30],['1024',113.246,88.7,20],['1024',114.476,101.4,-28],['1025',113.235,122.9,22],['1025',114.484,133.6,-25],['1026.5',113.18,204.8,12],['1026.5',114.43,208,-8]];

// ---- panel registry ----
const rowNames = ['ta','sa','da'];
const panelBands = [[taLonA,taLatA,taLatB,taLonB],[saLonA,saLatA,saLatB,saLonB],[daLonA,daLatA,daLatB,daLonB]];
const panelLines = [[taLonALines,taLatALines,taLatBLines,taLonBLines],[saLonALines,saLatALines,saLatBLines,saLonBLines],[daLonALines,daLatALines,daLatBLines,daLonBLines]];
const panelLabels = [[taLonALabels,taLatALabels,taLatBLabels,taLonBLabels],[saLonALabels,saLatALabels,saLatBLabels,saLonBLabels],[daLonALabels,daLatALabels,daLatBLabels,daLonBLabels]];
const cbarTicks = [cbarTicksTA,cbarTicksSA,cbarTicksDA];

// ---- layout ----
const plotLeft = [121.5,680,1237,1794.7];
const plotWidth = 522.5;
const rowTop = [15,618.5,1222.5];
const plotHeight = 558.5;
const cbarLeft = 2341, cbarWidth = 33;
const NS = 'http://www.w3.org/2000/svg';
const svg = document.getElementById('chart');

function xScale(col){
  const d = colDomains[col];
  return v => plotLeft[col] + (v - d[0]) / (d[1] - d[0]) * plotWidth;
}
function yScale(row){
  return v => rowTop[row] + v / 250 * plotHeight;
}
function cScale(row){
  const lim = cbarLimits[row];
  return v => rowTop[row] + (lim - v) / (2 * lim) * plotHeight;
}
function colorOf(level){
  return cmapColors[bandLevels.indexOf(level)];
}
function make(tag, attrs, parent){
  const e = document.createElementNS(NS, tag);
  for (const k in attrs) e.setAttribute(k, attrs[k]);
  parent.appendChild(e);
  return e;
}
function pointsOf(flat, x, y){
  const out = [];
  for (let i = 0; i + 1 < flat.length; i += 2) out.push(x(flat[i]).toFixed(1) + ',' + y(flat[i+1]).toFixed(1));
  return out.join(' ');
}

for (let r = 0; r < 3; r++){
  for (let c = 0; c < 4; c++){
    const x = xScale(c), y = yScale(r);
    const g = make('g', {}, svg);
    
    
    panelBands[r][c].forEach(b => {
      const p = make('polygon', {points: pointsOf(b[1], x, y), fill: colorOf(b[0])}, g);
      
      
    });
    if (c === 1 && r !== 1){
      const m = make('polygon', {points: pointsOf(latGapMask, x, y), fill: '#fff'}, g);
      
      
    }
    panelLines[r][c].forEach(s => {
      const l = make('polyline', {points: pointsOf(s, x, y), fill: 'none', stroke: '#000', 'stroke-width': 6, 'stroke-linejoin': 'round'}, g);
      
      
    });
    panelLabels[r][c].forEach(t => {
      const px = x(t[1]), py = y(t[2]);
      const lab = make('text', {x: px, y: py + 10, 'text-anchor': 'middle', class: 'clabel', transform: 'rotate(' + t[3] + ' ' + px + ' ' + py + ')'}, g);
      lab.textContent = t[0];
      
      
    });
    // frame
    const f = make('rect', {x: plotLeft[c], y: rowTop[r], width: plotWidth, height: plotHeight, fill: 'none', stroke: '#333', 'stroke-width': 2}, g);
    
    
    // depth ticks
    depthTicks.forEach(d => {
      if (d === 0 || d === 250) return;
      [[plotLeft[c], 6], [plotLeft[c] + plotWidth, -6]].forEach(a => {
        const t = make('line', {x1: a[0], x2: a[0] + a[1], y1: y(d), y2: y(d), stroke: '#222', 'stroke-width': 1.6}, g);
        
        
      });
    });
    // x ticks
    const xt = (c === 0 || c === 3) ? lonTicks : latTicks;
    xt.forEach(v => {
      if (x(v) > plotLeft[c] + 1){
        [[rowTop[r], 6], [rowTop[r] + plotHeight, -6]].forEach(a => {
          const t = make('line', {x1: x(v), x2: x(v), y1: a[0], y2: a[0] + a[1], stroke: '#222', 'stroke-width': 1.6}, g);
          
          
        });
      }
      if (r === 2){
        const tl = make('text', {x: x(v), y: 1833, 'text-anchor': 'middle', class: 'tick'}, g);
        tl.textContent = String(v);
        
        
      }
    });
    if (c === 0){
      depthTicks.forEach(d => {
        const tl = make('text', {x: 107, y: y(d) + 14, 'text-anchor': 'end', class: 'tick'}, g);
        tl.textContent = String(d);
        
        
      });
      const cy = rowTop[r] + plotHeight / 2 - 1;
      const yt = make('text', {x: 32, y: cy, 'text-anchor': 'middle', class: 'axis-title', transform: 'rotate(-90 32 ' + cy + ')'}, g);
      yt.textContent = 'Depth (m)';
      
      
    }
    if (r === 2){
      const xl = make('text', {x: plotLeft[c] + plotWidth / 2, y: 1883, 'text-anchor': 'middle', class: 'axis-title'}, g);
      xl.textContent = colTitles[c];
      
      
    }
  }
  // colour bar
  const cg = make('g', {}, svg);
  
  
  const cs = cScale(r), lim = cbarLimits[r], n = bandLevels.length;
  bandLevels.forEach((lev, i) => {
    const hi = lim - i * 2 * lim / n, lo = lim - (i + 1) * 2 * lim / n;
    const rectEl = make('rect', {x: cbarLeft, y: cs(hi), width: cbarWidth, height: cs(lo) - cs(hi) + 0.4, fill: colorOf(-lev)}, cg);
    
    
  });
  const cf = make('rect', {x: cbarLeft, y: rowTop[r], width: cbarWidth, height: plotHeight, fill: 'none', stroke: '#2a2a2a', 'stroke-width': 2}, cg);
  
  
  cbarTicks[r].forEach(v => {
    if (Math.abs(v) < lim){
      const t = make('line', {x1: cbarLeft + cbarWidth - 6, x2: cbarLeft + cbarWidth, y1: cs(v), y2: cs(v), stroke: '#222', 'stroke-width': 1.6}, cg);
      
      
    }
    const tl = make('text', {x: 2387, y: cs(v) + 14, class: 'tick'}, cg);
    tl.textContent = String(v);
    
    
  });
}
</script>
<svg xmlns="http://www.w3.org/2000/svg" width="2500" height="1885" viewBox="0 0 2500 1885" style="position:absolute;left:0;top:0;pointer-events:none">
<text class="cbar-title" text-anchor="middle" x="2470" y="295" transform="rotate(-90 2470 295)">TA (<tspan font-size="22" dy="-13">0</tspan><tspan dy="13">C)</tspan></text>
<text class="cbar-title" text-anchor="middle" x="2482" y="898" transform="rotate(-90 2482 898)">SA (PSU)</text>
<text class="cbar-title" text-anchor="middle" x="2493" y="1502" transform="rotate(-90 2493 1502)">DA (kg/m<tspan font-size="22" dy="-13">3</tspan><tspan dy="13">)</tspan></text>
</svg>
</body>
</html>
